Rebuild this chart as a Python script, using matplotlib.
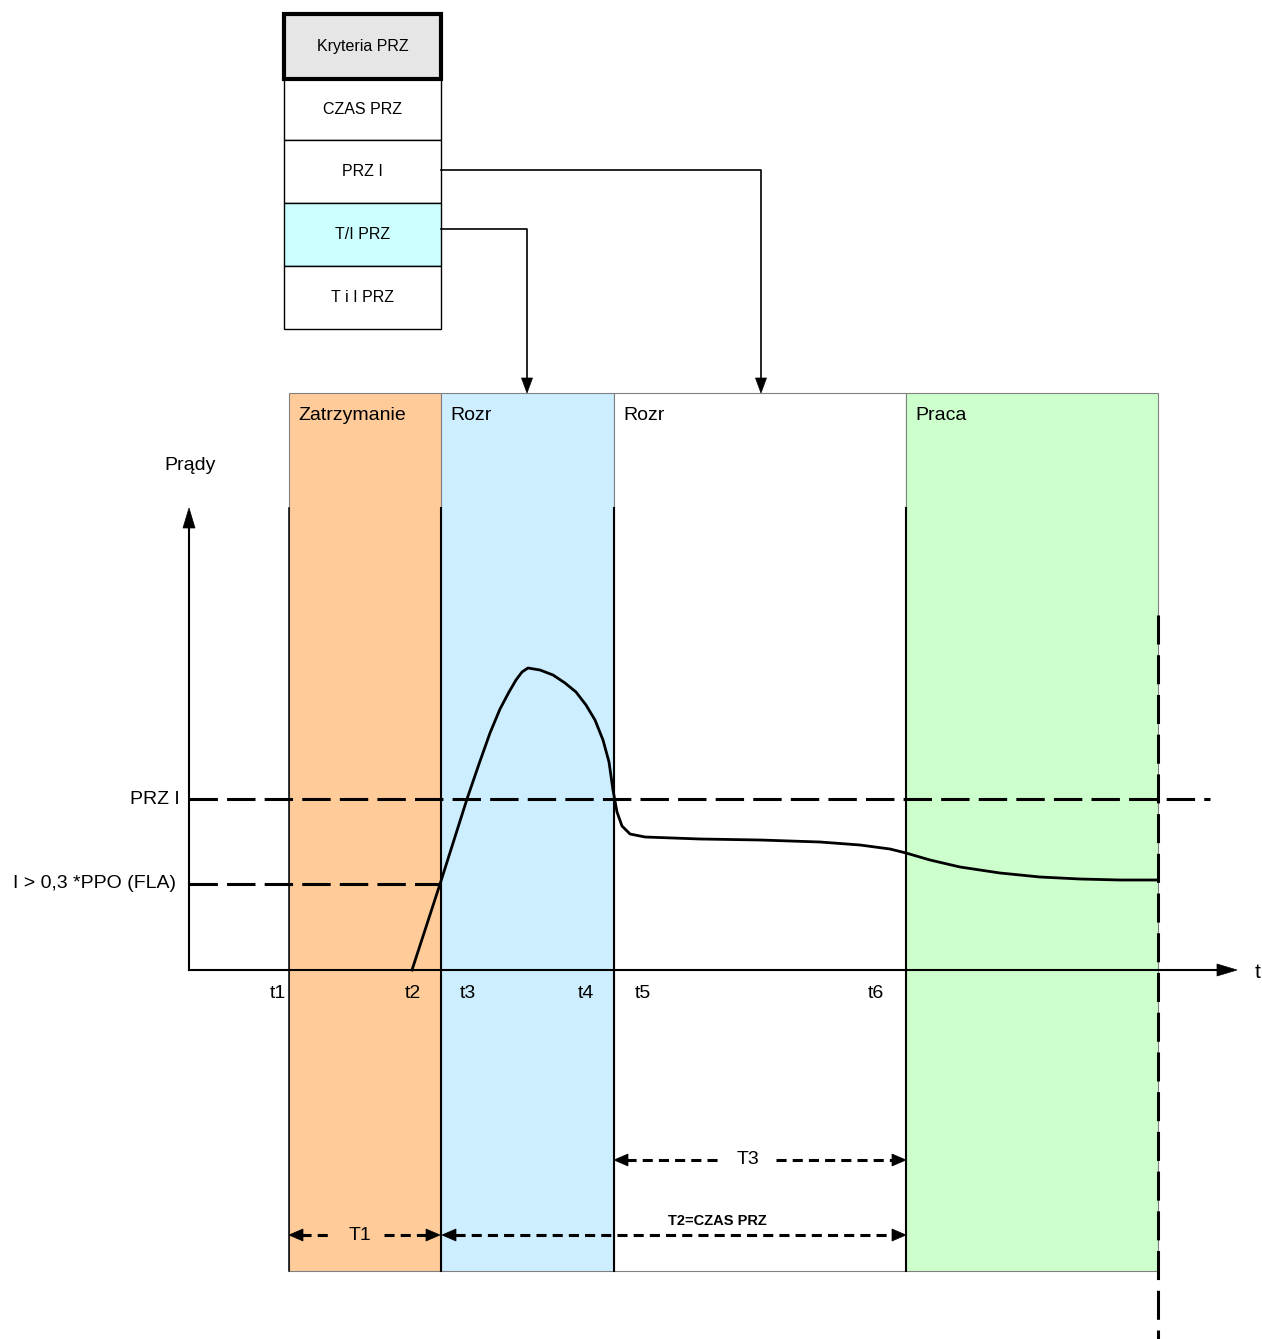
import matplotlib
matplotlib.use("Agg")
import matplotlib.pyplot as plt
from matplotlib.patches import Rectangle, Polygon

plt.rcParams['font.family'] = ['Liberation Sans', 'DejaVu Sans']

# ---------------- data (pixel-space diagram units) ----------------
menu_labels = ["Kryteria PRZ", "CZAS PRZ", "PRZ I", "T/I PRZ", "T i I PRZ"]
menu_colors = ["#e6e6e6", "#ffffff", "#ffffff", "#ccffff", "#ffffff"]
menu_edges = [14, 79, 140, 203, 266, 329]

band_labels = ["Zatrzymanie", "Rozr", "Rozr", "Praca"]
band_colors = ["#ffcc99", "#cceeff", "#ffffff", "#ccffcc"]
band_edges = [289, 441, 614, 906, 1158]

time_labels = ["t1", "t2", "t3", "t4", "t5", "t6"]
time_pos = [278, 413, 468, 586, 643, 876]

level_labels = ["PRZ I", "I > 0,3 *PPO (FLA)"]
level_y = [799, 884]
level_end = [1210, 441]

curve_x = [412, 441, 467, 479, 490, 500, 509, 516, 522, 528, 540, 553, 565, 576,
           586, 595, 603, 609, 613, 617, 622, 630, 645, 700, 760, 820, 860, 890,
           906, 930, 960, 1000, 1040, 1080, 1120, 1158]
curve_y = [970, 881, 799, 764, 733, 709, 692, 680, 672, 668, 670, 675, 683, 692,
           705, 720, 740, 762, 790, 812, 826, 834, 837, 839, 840, 842, 845, 849,
           853, 860, 867, 873, 877, 879, 880, 880]

W, H = 1262, 1339
fig = plt.figure(figsize=(W / 100, H / 100), dpi=100)
ax = fig.add_axes([0, 0, 1, 1])
ax.set_xlim(0, W)
ax.set_ylim(H, 0)
ax.axis('off')

FS = 14


def head(tip, direction, length=16, width=12, z=6):
    x, y = tip
    dx, dy = direction
    bx, by = x - dx * length, y - dy * length
    px, py = -dy * width / 2, dx * width / 2
    ax.add_patch(Polygon([(x, y), (bx + px, by + py), (bx - px, by - py)],
                         closed=True, facecolor='black', edgecolor='black', lw=0.5, zorder=z))


# ---------------- menu boxes ----------------
bx0, bx1 = 284, 441
for i, lab in enumerate(menu_labels):
    y0, y1 = menu_edges[i], menu_edges[i + 1]
    lw = 3.0 if i == 0 else 1.0
    ax.add_patch(Rectangle((bx0, y0), bx1 - bx0, y1 - y0, facecolor=menu_colors[i],
                           edgecolor='black', lw=lw, zorder=3 if i == 0 else 2))
    ax.text((bx0 + bx1) / 2, (y0 + y1) / 2, lab, ha='center', va='center', fontsize=11.5, zorder=4)

# connectors
ax.plot([441, 761, 761], [170, 170, 378], color='black', lw=1.2, zorder=2)
head((761, 393), (0, 1), length=15, width=11)
ax.plot([441, 527, 527], [229, 229, 378], color='black', lw=1.2, zorder=2)
head((527, 393), (0, 1), length=15, width=11)

# ---------------- bands ----------------
top, bot = 393, 1271
for i, lab in enumerate(band_labels):
    x0, x1 = band_edges[i], band_edges[i + 1]
    ax.add_patch(Rectangle((x0, top), x1 - x0, bot - top, facecolor=band_colors[i],
                           edgecolor='#808080', lw=0.8, zorder=1))
    ax.text(x0 + 9, 415, lab, ha='left', va='center', fontsize=FS, zorder=4)
for x in band_edges[:-1]:
    ax.plot([x, x], [508, bot], color='black', lw=1.5 if x != 289 else 1.1, zorder=2)

# vertical dashed at right edge
ax.plot([1158, 1158], [615, 1339], color='black', lw=2.2, dashes=(9.5, 3.5), zorder=5)

# ---------------- axes ----------------
ax.plot([189, 189], [970, 525], color='black', lw=1.5, zorder=5)
head((189, 508), (0, -1), length=20, width=12)
ax.plot([189, 1220], [970, 970], color='black', lw=1.5, zorder=5)
head((1237, 970), (1, 0), length=20, width=12)
ax.text(190, 465, "Prądy", ha='center', va='center', fontsize=FS)
ax.text(1258, 972, "t", ha='center', va='center', fontsize=FS + 1)

# levels
for lab, y, xe in zip(level_labels, level_y, level_end):
    ax.plot([189, xe], [y, y], color='black', lw=2.2, dashes=(9.3, 3.0), zorder=4)
    ax.text(180 if lab == "PRZ I" else 176, y, lab, ha='right', va='center', fontsize=FS)

for lab, x in zip(time_labels, time_pos):
    ax.text(x, 993, lab, ha='center', va='center', fontsize=FS)

# current curve
ax.plot(curve_x, curve_y, color='black', lw=2.0, zorder=6, solid_joinstyle='round')

# ---------------- time span arrows ----------------
dash = dict(color='black', lw=2.2, dashes=(3.3, 2.0), zorder=5)
# T3
ax.plot([626, 722], [1160, 1160], **dash)
ax.plot([776, 893], [1160, 1160], **dash)
head((614, 1160), (-1, 0), length=14, width=12)
head((906, 1160), (1, 0), length=14, width=12)
ax.text(748, 1160, "T3", ha='center', va='center', fontsize=FS)
# T1
ax.plot([301, 330], [1235, 1235], **dash)
ax.plot([384, 428], [1235, 1235], **dash)
head((289, 1235), (-1, 0), length=14, width=12)
head((440, 1235), (1, 0), length=14, width=12)
ax.text(360, 1235, "T1", ha='center', va='center', fontsize=FS)
# T2
ax.plot([455, 893], [1235, 1235], **dash)
head((442, 1235), (-1, 0), length=14, width=12)
head((906, 1235), (1, 0), length=14, width=12)
ax.text(717, 1221, "T2=CZAS PRZ", ha='center', va='center', fontsize=10.5, fontweight='bold')

fig.savefig("out.png", dpi=100)
